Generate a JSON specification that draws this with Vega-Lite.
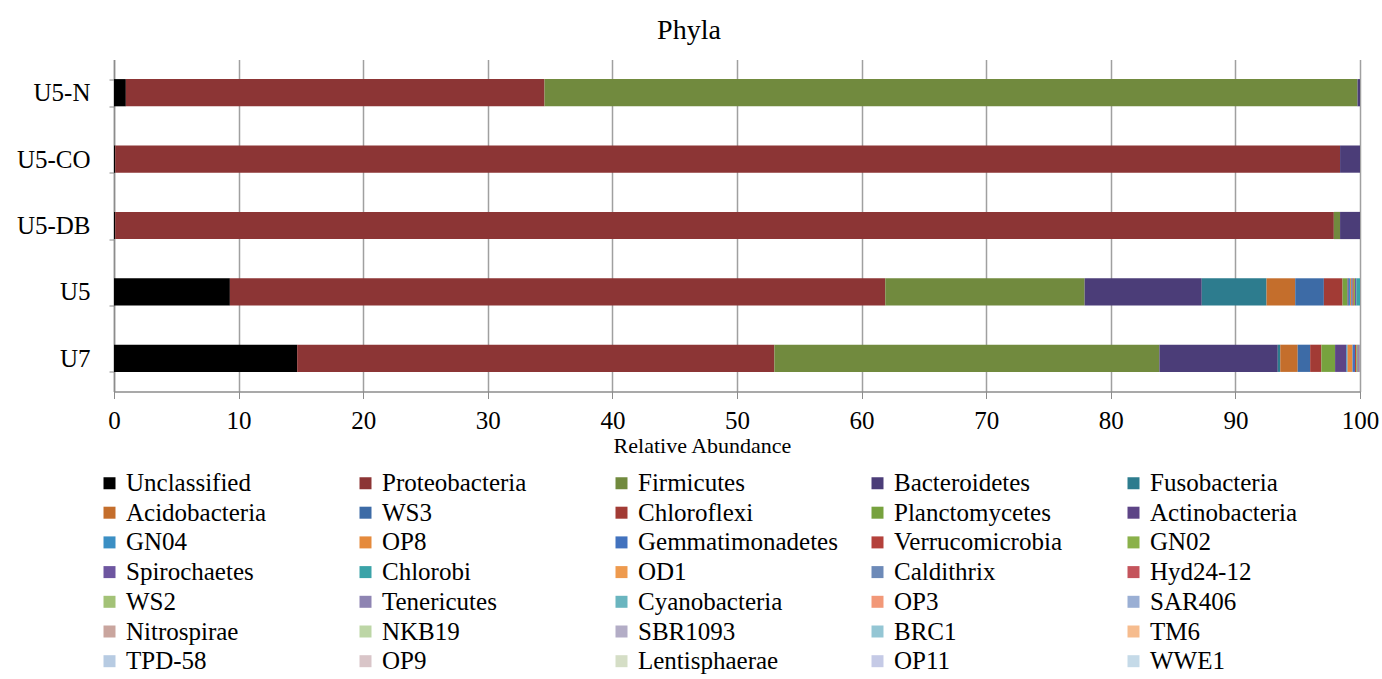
{
  "$schema": "https://vega.github.io/schema/vega-lite/v6.json",
  "autosize": {"type": "none"},
  "padding": {"left": 114, "top": 59.5, "right": 20, "bottom": 288},
  "width": 1246,
  "height": 332,
  "background": "white",
  "title": {
    "text": "Phyla",
    "font": "Liberation Serif",
    "fontSize": 28,
    "fontWeight": "normal",
    "color": "black",
    "anchor": "middle",
    "dx": -48,
    "baseline": "alphabetic",
    "offset": -19
  },
  "data": {
    "values": [
      {"sample": "U5-N", "phylum": "Unclassified", "value": 0.95},
      {"sample": "U5-N", "phylum": "Proteobacteria", "value": 33.6},
      {"sample": "U5-N", "phylum": "Firmicutes", "value": 65.25},
      {"sample": "U5-N", "phylum": "Bacteroidetes", "value": 0.2},

      {"sample": "U5-CO", "phylum": "Unclassified", "value": 0.1},
      {"sample": "U5-CO", "phylum": "Proteobacteria", "value": 98.3},
      {"sample": "U5-CO", "phylum": "Bacteroidetes", "value": 1.6},

      {"sample": "U5-DB", "phylum": "Unclassified", "value": 0.1},
      {"sample": "U5-DB", "phylum": "Proteobacteria", "value": 97.8},
      {"sample": "U5-DB", "phylum": "Firmicutes", "value": 0.5},
      {"sample": "U5-DB", "phylum": "Bacteroidetes", "value": 1.6},

      {"sample": "U5", "phylum": "Unclassified", "value": 9.3},
      {"sample": "U5", "phylum": "Proteobacteria", "value": 52.6},
      {"sample": "U5", "phylum": "Firmicutes", "value": 16.0},
      {"sample": "U5", "phylum": "Bacteroidetes", "value": 9.4},
      {"sample": "U5", "phylum": "Fusobacteria", "value": 5.2},
      {"sample": "U5", "phylum": "Acidobacteria", "value": 2.3},
      {"sample": "U5", "phylum": "WS3", "value": 2.3},
      {"sample": "U5", "phylum": "Chloroflexi", "value": 1.5},
      {"sample": "U5", "phylum": "Planctomycetes", "value": 0.4},
      {"sample": "U5", "phylum": "Actinobacteria", "value": 0.1},
      {"sample": "U5", "phylum": "GN04", "value": 0.1},
      {"sample": "U5", "phylum": "OP8", "value": 0.1},
      {"sample": "U5", "phylum": "Gemmatimonadetes", "value": 0.1},
      {"sample": "U5", "phylum": "Verrucomicrobia", "value": 0.1},
      {"sample": "U5", "phylum": "GN02", "value": 0.1},
      {"sample": "U5", "phylum": "Spirochaetes", "value": 0.1},
      {"sample": "U5", "phylum": "Chlorobi", "value": 0.3},

      {"sample": "U7", "phylum": "Unclassified", "value": 14.7},
      {"sample": "U7", "phylum": "Proteobacteria", "value": 38.3},
      {"sample": "U7", "phylum": "Firmicutes", "value": 30.9},
      {"sample": "U7", "phylum": "Bacteroidetes", "value": 9.5},
      {"sample": "U7", "phylum": "Fusobacteria", "value": 0.2},
      {"sample": "U7", "phylum": "Acidobacteria", "value": 1.4},
      {"sample": "U7", "phylum": "WS3", "value": 1.0},
      {"sample": "U7", "phylum": "Chloroflexi", "value": 0.9},
      {"sample": "U7", "phylum": "Planctomycetes", "value": 1.1},
      {"sample": "U7", "phylum": "Actinobacteria", "value": 0.9},
      {"sample": "U7", "phylum": "GN04", "value": 0.1},
      {"sample": "U7", "phylum": "OP8", "value": 0.4},
      {"sample": "U7", "phylum": "Gemmatimonadetes", "value": 0.2},
      {"sample": "U7", "phylum": "Verrucomicrobia", "value": 0.1},
      {"sample": "U7", "phylum": "GN02", "value": 0.1},
      {"sample": "U7", "phylum": "Spirochaetes", "value": 0.1},
      {"sample": "U7", "phylum": "OD1", "value": 0.05},
      {"sample": "U7", "phylum": "Caldithrix", "value": 0.05}
    ]
  },
  "transform": [
    {"window": [{"op": "row_number", "as": "stack_order"}]}
  ],
  "mark": {"type": "bar"},
  "encoding": {
    "y": {
      "field": "sample",
      "type": "nominal",
      "sort": ["U5-N", "U5-CO", "U5-DB", "U5", "U7"],
      "scale": {"paddingInner": 0.59, "paddingOuter": 0.295},
      "axis": {
        "title": null,
        "labelFont": "Liberation Serif",
        "labelFontSize": 25,
        "labelColor": "black",
        "labelPadding": 19,
        "tickBand": "extent",
        "tickSize": 5,
        "tickColor": "#8c8c8c",
        "domainColor": "#8c8c8c",
        "domainWidth": 1.5,
        "grid": false
      }
    },
    "x": {
      "field": "value",
      "type": "quantitative",
      "stack": "zero",
      "scale": {"domain": [0, 100], "nice": false},
      "axis": {
        "title": "Relative Abundance",
        "titleFont": "Liberation Serif",
        "titleFontSize": 22,
        "titleFontWeight": "normal",
        "titleColor": "black",
        "titlePadding": 2,
        "titleX": 588,
        "titleAlign": "center",
        "values": [0, 10, 20, 30, 40, 50, 60, 70, 80, 90, 100],
        "labelFont": "Liberation Serif",
        "labelFontSize": 25,
        "labelColor": "black",
        "labelPadding": 10,
        "labelFlush": false,
        "tickSize": 7,
        "tickColor": "#8c8c8c",
        "domainColor": "#8c8c8c",
        "domainWidth": 1.5,
        "grid": true,
        "gridColor": "#a0a0a0",
        "gridWidth": 1.5
      }
    },
    "order": {"field": "stack_order", "type": "quantitative", "sort": "ascending"},
    "color": {
      "field": "phylum",
      "type": "nominal",
      "scale": {
        "domain": ["Unclassified","Proteobacteria","Firmicutes","Bacteroidetes","Fusobacteria","Acidobacteria","WS3","Chloroflexi","Planctomycetes","Actinobacteria","GN04","OP8","Gemmatimonadetes","Verrucomicrobia","GN02","Spirochaetes","Chlorobi","OD1","Caldithrix","Hyd24-12","WS2","Tenericutes","Cyanobacteria","OP3","SAR406","Nitrospirae","NKB19","SBR1093","BRC1","TM6","TPD-58","OP9","Lentisphaerae","OP11","WWE1"],
        "range": ["#000000","#8c3535","#718a3e","#4b3d78","#2d7c8e","#c46e2c","#3d6ba6","#a23b35","#77a23e","#5d4486","#3b8fc4","#e58a3c","#4272be","#b4413b","#8ab14a","#6e56a0","#3aa3a8","#ee9a4e","#6d8ab8","#c4545c","#a3c277","#8e84b2","#6ab5bf","#f29878","#9aafd4","#c9a59e","#bdd6a6","#b3adc6","#94c6d4","#f6bc8e","#b7cbe2","#d9c5c8","#d5dec6","#c5cae6","#c5dae8"]
      },
      "legend": {
        "title": null,
        "orient": "none",
        "direction": "horizontal",
        "legendX": -17,
        "legendY": 411,
        "columns": 5,
        "gridAlign": "all",
        "columnPadding": 27,
        "rowPadding": 3.7,
        "padding": 0,
        "symbolLimit": 100,
        "symbolType": "square",
        "symbolSize": 144,
        "symbolStrokeWidth": 0,
        "symbolOpacity": 1,
        "labelFont": "Liberation Serif",
        "labelFontSize": 25,
        "labelColor": "black",
        "labelLimit": 400,
        "labelOffset": 4
      }
    }
  },
  "config": {
    "view": {"stroke": null},
    "font": "Liberation Serif"
  }
}
